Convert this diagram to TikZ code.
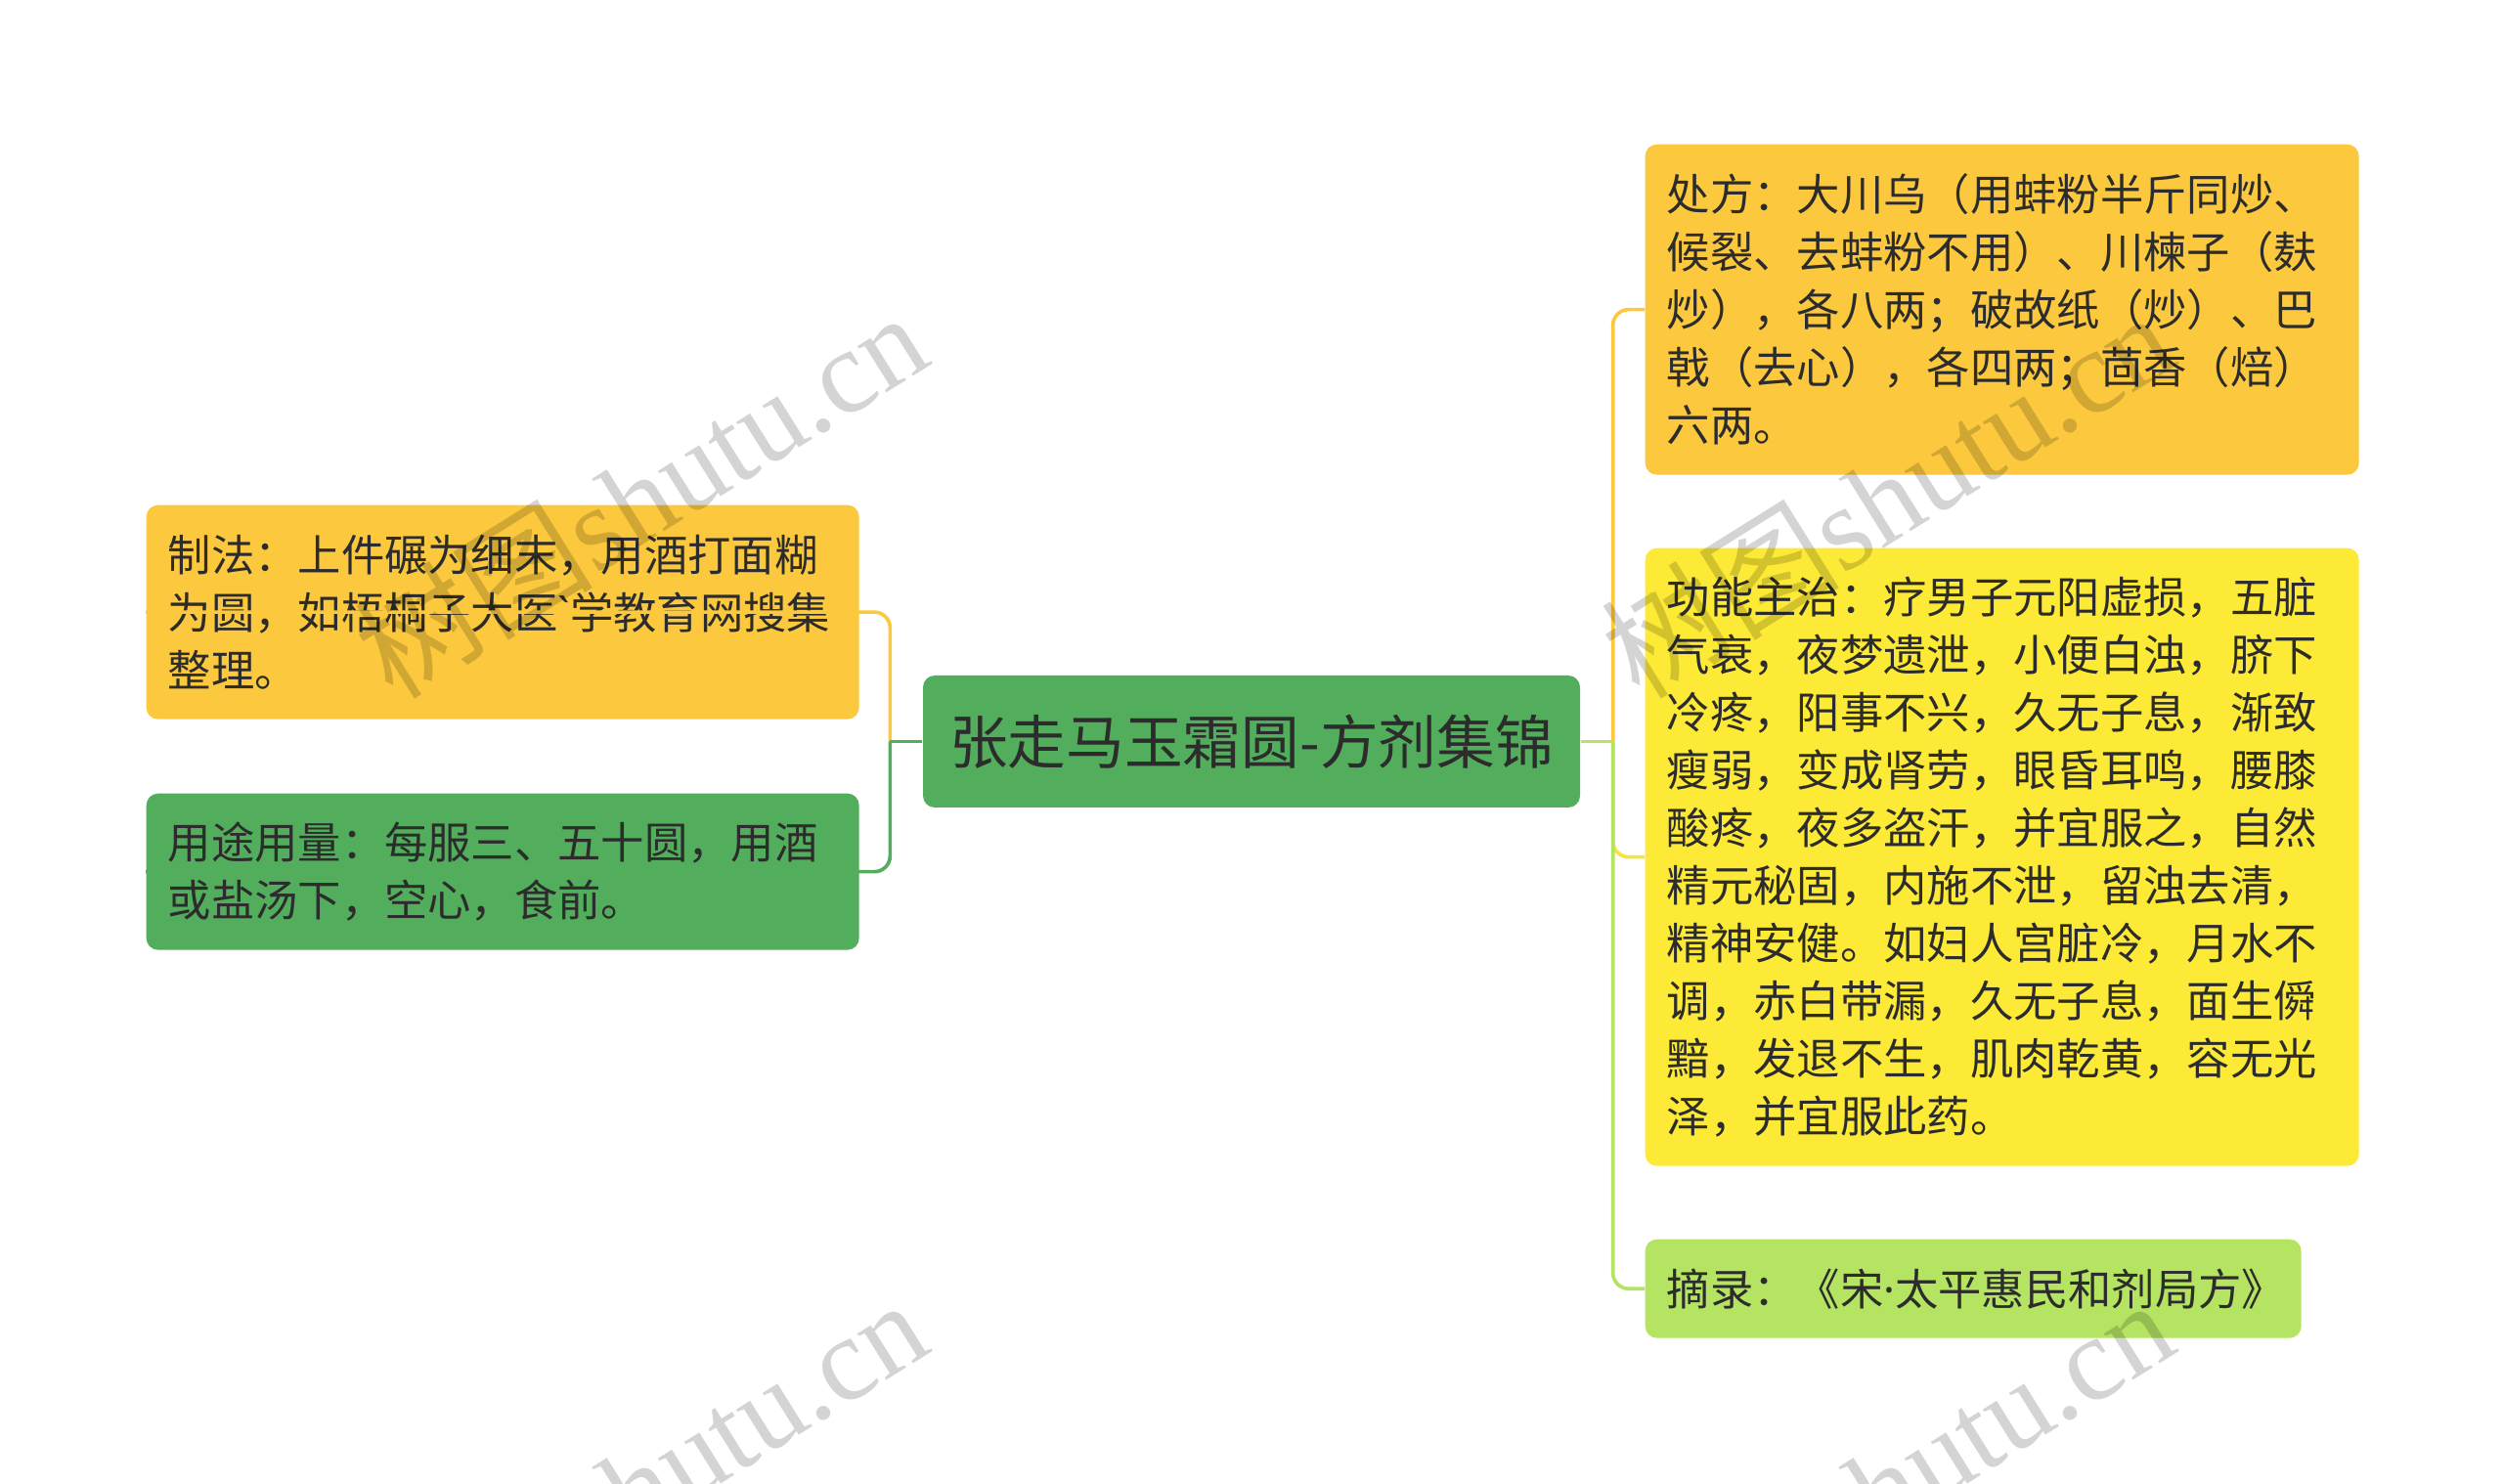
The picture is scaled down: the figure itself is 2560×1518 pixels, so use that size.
\documentclass[tikz,border=0pt]{standalone}
\usepackage{fontspec}
\newfontfamily\cjk{Noto Sans CJK SC}
\newfontfamily\latn{Noto Sans}
\newfontfamily\wmlat{Liberation Serif}
\definecolor{cOrange}{HTML}{FCC93E}
\definecolor{cYellow}{HTML}{FDEA36}
\definecolor{cYellowL}{HTML}{F7E43C}
\definecolor{cGreen}{HTML}{52AE5C}
\definecolor{cLime}{HTML}{B4E462}
\definecolor{txt}{HTML}{2C2C2C}
\begin{document}
\begin{tikzpicture}[x=0.3pt,y=-0.3pt,
  box/.style={rounded corners=3.6pt, inner xsep=6.6pt, inner ysep=0pt, anchor=north west,
    align=left, text=txt, font=\cjk\fontsize{13.3pt}{17.7pt}\selectfont},
  title/.style={rounded corners=3.6pt, inner sep=0pt, align=center, text=txt,
    font=\cjk\fontsize{17.9pt}{20pt}\selectfont},
  conn/.style={line width=1.1pt, rounded corners=4.8pt},
  wm/.style={rotate=32, text=black, text opacity=0.17, inner sep=0pt,
    font=\wmlat\fontsize{36.5pt}{36.5pt}\selectfont}]
\useasboundingbox (0,0) rectangle (2560,1518);
\fill[white] (0,0) rectangle (2560,1518);

% central topic
\node[title, fill=cGreen, minimum width=201.6pt, minimum height=40.5pt] (center) at (1280,758.5)
  {张走马玉霜圆-方剂集锦};

% right branches
\node[box, fill=cOrange, text width=205.8pt, minimum height=101.4pt] (chufang) at (1682,147)
  {处方：大川乌（用蚌粉半斤同炒、\\候裂、去蚌粉不用）、川楝子（麸\\炒），各八两；破故纸（炒）、巴\\戟（去心），各四两；茴香（焙）\\六两。};
\node[box, fill=cYellow, text width=205.8pt, minimum height=189.6pt] (gongneng) at (1682,560)
  {功能主治：疗男子元阳虚损，五脏\\气衰，夜梦遗泄，小便白浊，脐下\\冷疼，阳事不兴，久无子息，渐致\\瘦弱，变成肾劳，眼昏耳鸣，腰膝\\酸疼，夜多盗汗，并宜服之，自然\\精元秘固，内施不泄，留浊去清，\\精神安健。如妇人宫脏冷，月水不\\调，赤白带漏，久无子息，面生僢\\黯，发退不生，肌肉乾黄，容无光\\泽，并宜服此药。};
\node[box, fill=cLime, text width=188.1pt, minimum height=30.3pt] (zhailu) at (1682,1267)
  {摘录：《宋{\latn ·}太平惠民和剂局方》};

% left branches
\node[box, fill=cOrange, text width=205.5pt, minimum height=65.7pt] (zhifa) at (149,516)
  {制法：上件碾为细末，用酒打面糊\\为圆，如梧桐子大医{\latn `}学教育网搜集\\整理。};
\node[box, fill=cGreen, text width=205.5pt, minimum height=48pt] (yongtu) at (149,811)
  {用途用量：每服三、五十圆，用酒\\或盐汤下，空心，食前。};

% junctions
\coordinate (jr) at ([xshift=9.9pt]center.east);
\coordinate (jl) at ([xshift=-9.9pt]center.west);

% connectors right
\draw[conn, cYellowL] (jr) |- (gongneng.west);
\draw[conn, cLime] (jr) |- (zhailu.west);
\draw[conn, cOrange] (jr) |- (chufang.west);
\draw[conn, cLime] (center.east) -- (jr);

% connectors left
\draw[conn, cOrange] (jl) |- (zhifa.west);
\draw[conn, cGreen] (jl) |- (yongtu.west);
\draw[conn, cGreen] (center.west) -- (jl);

% watermarks
\node[wm] (wm1) at (655,505) {{\cjk 树图}shutu.cn};
\node[wm] (wm2) at (1930,505) {{\cjk 树图}shutu.cn};
\node[wm] (wm3) at (655,1515) {{\cjk 树图}shutu.cn};
\node[wm] (wm4) at (1930,1515) {{\cjk 树图}shutu.cn};
\end{tikzpicture}
\end{document}
